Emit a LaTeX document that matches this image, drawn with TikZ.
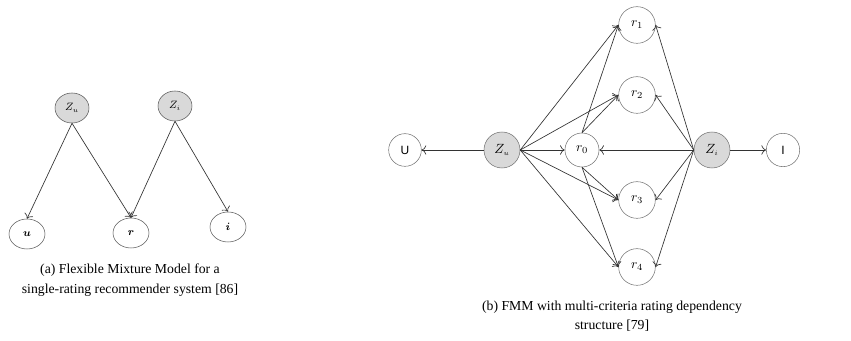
\documentclass[tikz,border=0pt]{standalone}
\usepackage{amsmath}
\usepackage{fontspec}
\setmainfont{Liberation Serif}
\setsansfont{Liberation Sans}
\usetikzlibrary{positioning, arrows.meta, shapes.geometric, calc}

\begin{document}
\begin{tikzpicture}[
    x=0.75pt, y=-0.75pt,
    latent/.style={draw=black!65, ellipse, fill=gray!30, minimum width=25.5pt, minimum height=22.5pt, inner sep=0pt, font=\footnotesize},
    observed/.style={draw=black!65, ellipse, fill=white, minimum width=27pt, minimum height=22.5pt, inner sep=0pt, font=\footnotesize},
    bignode/.style={draw=black!55, circle, minimum size=27.5pt, inner sep=0pt, font=\normalsize},
    hidden/.style={bignode, fill=gray!30, minimum size=27pt},
    arrow/.style={-{To[length=3.5pt, width=7pt]}, draw=black!80, line width=0.5pt},
    caption/.style={align=center, font=\fontsize{10.3}{14.5}\selectfont},
]
\useasboundingbox (0,0) rectangle (851,341);

% (a) Flexible Mixture Model
\node[latent] (za) at (72,108) {$Z_{\scriptscriptstyle u}$};
\node[latent] (zia) at (175,106) {$Z_{\scriptscriptstyle i}$};
\node[observed] (ua) at (27,234) {$\boldsymbol{u}$};
\node[observed] (ra) at (131,233) {$\boldsymbol{r}$};
\node[observed] (ia) at (228,227) {$\boldsymbol{i}$};

\draw[arrow] (za.south) -- (ua.north);
\draw[arrow] (za.south) -- (ra.north);
\draw[arrow] (zia.south) -- (ra.north);
\draw[arrow] (zia.south) -- (ia.north);

\node[caption] (capa) at (130,280) {(a) Flexible Mixture Model for a\\single-rating recommender system [86]};

% (b) FMM with multi-criteria ratings
\node[bignode, minimum size=24.5pt, font=\small\sffamily] (U) at (405,150) {U};
\node[hidden] (zu) at (502,150) {$Z_{\scriptscriptstyle u}$};
\node[bignode, minimum size=25.5pt] (r0) at (582,150) {$r_0$};
\node[hidden] (zi) at (712,150) {$Z_{\scriptscriptstyle i}$};
\node[bignode, minimum size=25pt, font=\small\sffamily] (I) at (783,150) {I};
\node[bignode] (r1) at (637,25) {$r_1$};
\node[bignode] (r2) at (637,95) {$r_2$};
\node[bignode] (r3) at (637,200) {$r_3$};
\node[bignode] (r4) at (637,267) {$r_4$};

% Connections
\draw[arrow] (zu) -- (U);
\draw[arrow] (zu) -- (r0);
\draw[arrow] (zi) -- (r0);
\draw[arrow] (zi) -- (I);
\foreach \k in {1,2,3,4} {
    \draw[arrow] (zu.east) -- (r\k.west);
    \draw[arrow] (zi.west) -- (r\k.east);
}
\draw[arrow] (r0.north) -- (r1.west);
\draw[arrow] (r0.north) -- (r2.west);
\draw[arrow] (r0.south) -- (r3.west);
\draw[arrow] (r0.south) -- (r4.west);

\node[caption] (capb) at (612,316) {(b) FMM with multi-criteria rating dependency\\structure [79]};

\end{tikzpicture}
\end{document}
